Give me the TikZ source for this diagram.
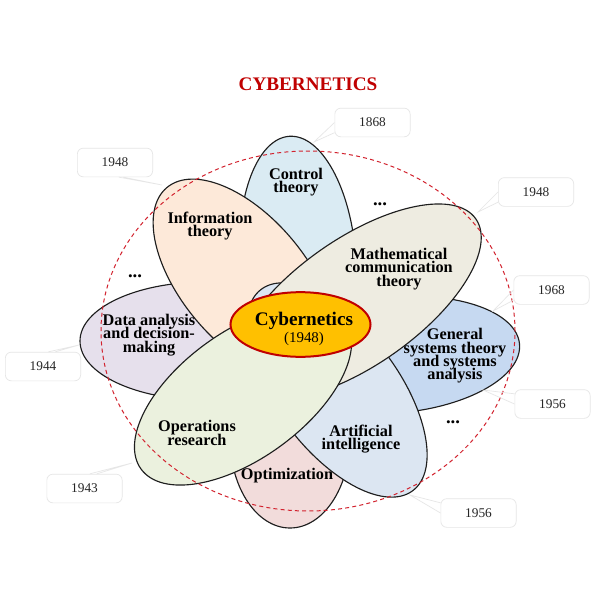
\documentclass[tikz,border=0pt]{standalone}
\usepackage{fontspec}
\setmainfont{Liberation Serif}
\usetikzlibrary{shapes.geometric}
\lineskiplimit=-20pt
\normallineskiplimit=-20pt
\definecolor{cred}{HTML}{C00000}
\definecolor{cdash}{HTML}{D2222E}
\definecolor{cline}{HTML}{1E1E1E}
\definecolor{cgrey}{HTML}{E6E6E6}
\tikzset{
  petal/.style={ellipse,draw=cline,line width=0.85pt,inner sep=0pt,outer sep=0pt},
  lab/.style={align=center,text=black,inner sep=0pt,font=\fontsize{12.2}{10}\selectfont\bfseries},
  yearbox/.style={draw=cgrey,fill=white,rounded corners=4.5pt,line width=0.5pt,minimum width=56.5pt,minimum height=21.5pt,inner sep=0pt,font=\fontsize{10}{12}\selectfont,text=black!85},
  tail/.style={draw=cgrey,line width=0.5pt},
  dotsl/.style={inner sep=0pt,font=\fontsize{14}{14}\selectfont\bfseries}
}
\begin{document}
\begin{tikzpicture}[x=0.75pt,y=-0.75pt]
\useasboundingbox (0,0) rectangle (600,600);
\fill[white] (0,0) rectangle (600,600);
\node (title) [text=cred,inner sep=0pt,font=\fontsize{14.4}{16}\selectfont\bfseries] at (308,84) {CYBERNETICS};
% petals
\node (ctrl) [petal,fill={rgb,255:red,218;green,235;blue,243},minimum width=87pt,minimum height=187.5pt,rotate=4] at (298,261) {};
\node (opti) [petal,fill={rgb,255:red,242;green,220;blue,219},minimum width=90pt,minimum height=135pt] at (290,438) {};
\node (gens) [petal,fill={rgb,255:red,198;green,217;blue,241},minimum width=187.5pt,minimum height=87pt,rotate=5] at (395,355) {};
\node (data) [petal,fill={rgb,255:red,230;green,224;blue,236},minimum width=187.5pt,minimum height=88.5pt] at (205,341) {};
\node (info) [petal,fill={rgb,255:red,253;green,233;blue,217},minimum width=180pt,minimum height=94pt,rotate=-50] at (244,279.5) {};
\node (arti) [petal,fill={rgb,255:red,220;green,230;blue,242},minimum width=189pt,minimum height=91.5pt,rotate=-53] at (337,390) {};
\node (math) [petal,fill={rgb,255:red,238;green,236;blue,225},minimum width=217.5pt,minimum height=95pt,rotate=35] at (357,302) {};
\node (oper) [petal,fill={rgb,255:red,235;green,241;blue,222},minimum width=189pt,minimum height=95pt,rotate=36] at (243,395) {};
% dashed outline
\node (ring) [ellipse,draw=cdash,line width=0.75pt,dash pattern=on 3pt off 2.4pt,inner sep=0pt,minimum width=310.5pt,minimum height=270pt] at (308,331) {};
% centre
\node (core) [ellipse,draw=cred,fill={rgb,255:red,255;green,192;blue,0},line width=1.5pt,inner sep=0pt,minimum width=105pt,minimum height=48.5pt] at (300.5,324.5) {};
% labels
\node (lctrl) [lab] at (296,182) {Control\\theory};
\node (linfo) [lab] at (210,226) {Information\\theory};
\node (lmath) [lab] at (399,269) {Mathematical\\communication\\theory};
\node (lgens) [lab] at (455,356) {General\\systems theory\\and systems\\analysis};
\node (larti) [lab] at (361,439) {Artificial\\intelligence};
\node (lopti) [lab] at (287,476) {Optimization};
\node (loper) [lab] at (197,433) {Operations\\research};
\node (ldata) [lab] at (149,335) {Data analysis\\and decision-\\making};
\node (lcore) [inner sep=0pt,font=\fontsize{14.4}{16}\selectfont\bfseries] at (304,320.5) {Cybernetics};
\node (lyear) [inner sep=0pt,font=\fontsize{11.2}{12}\selectfont] at (304,339) {(1948)};
% dots
\node (d1) [dotsl] at (380,204) {...};
\node (d2) [dotsl] at (135,276) {...};
\node (d3) [dotsl] at (453,422) {...};
% year boxes
\coordinate (t1) at (314,142);
\coordinate (t2) at (162,185);
\coordinate (t3) at (478,212);
\coordinate (t4) at (493,311);
\coordinate (t5) at (483,390);
\coordinate (t6) at (410,495);
\coordinate (t7) at (79,345);
\coordinate (t8) at (132,463);
\node (y1) [yearbox] at (372.5,122.5) {1868};
\node (y2) [yearbox] at (115,162.5) {1948};
\node (y3) [yearbox] at (536,192) {1948};
\node (y4) [yearbox] at (551.5,290) {1968};
\node (y5) [yearbox] at (552.5,404) {1956};
\node (y6) [yearbox] at (478.5,513) {1956};
\node (y7) [yearbox] at (43,366.5) {1944};
\node (y8) [yearbox] at (84.5,488.5) {1943};
\draw[tail] (y1.west) -- (t1) -- (y1.195);
\draw[tail] (y2.300) -- (t2) -- (y2.285);
\draw[tail] (y3.west) -- (t3) -- (y3.195);
\draw[tail] (y4.west) -- (t4) -- (y4.195);
\draw[tail] (y5.west) -- (t5) -- (y5.165);
\draw[tail] (y6.west) -- (t6) -- (y6.165);
\draw[tail] (y7.70) -- (t7) -- (y7.50);
\draw[tail] (y8.70) -- (t8) -- (y8.50);
\end{tikzpicture}
\end{document}
